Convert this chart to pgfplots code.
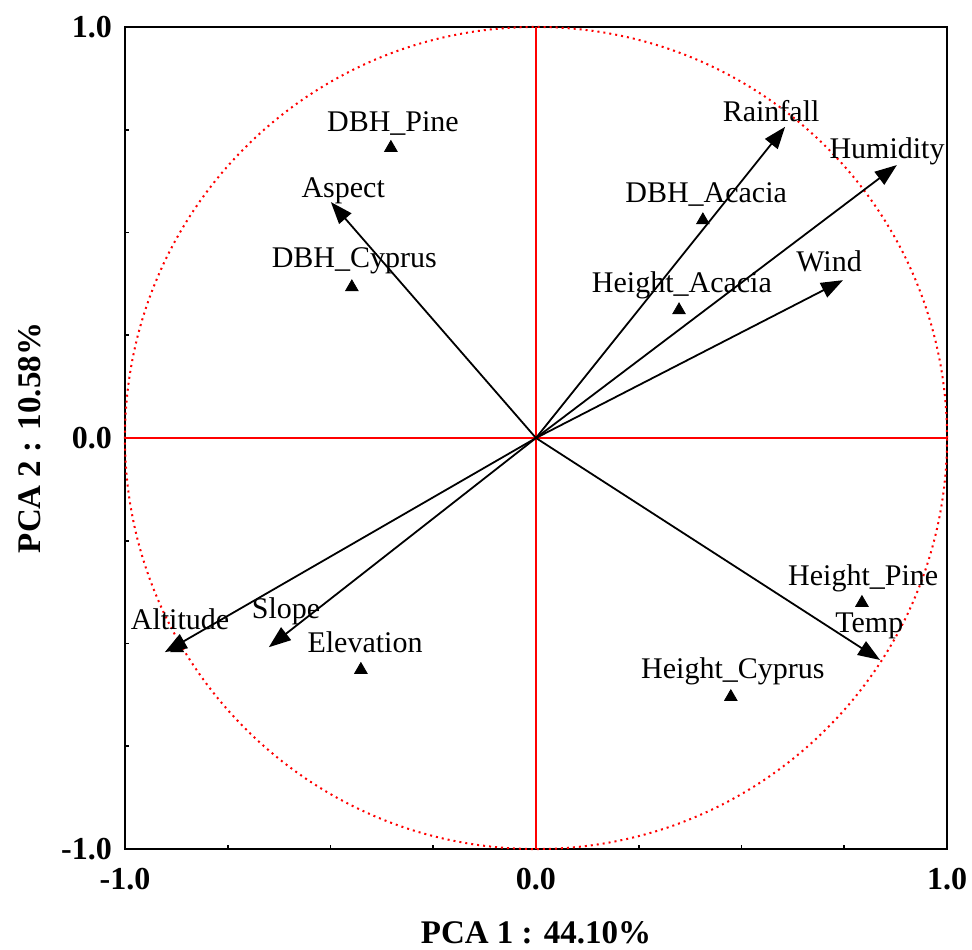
\documentclass[border=0pt]{standalone}
\usepackage{fontspec}
\setmainfont{Liberation Serif}
\usepackage{pgfplots}
\pgfplotsset{compat=1.18}
\usetikzlibrary{arrows.meta}
\tikzset{lab/.style={anchor=base, inner sep=0pt, font=\fontsize{15}{18}\selectfont}}
\begin{document}
\begin{tikzpicture}
\begin{axis}[
  scale only axis, width=411pt, height=411pt,
  xmin=-1, xmax=1, ymin=-1, ymax=1,
  clip=false,
  axis line style={line width=1.4pt},
  xtick={-1,0,1}, ytick={-1,0,1},
  xticklabels={-1.0,0.0,1.0}, yticklabels={-1.0,0.0,1.0},
  minor xtick={-0.75,-0.5,-0.25,0.25,0.5,0.75},
  minor ytick={-0.75,-0.5,-0.25,0.25,0.5,0.75},
  xtick pos=left, ytick pos=left,
  tick align=inside, major tick length=2pt, minor tick length=2pt,
  tick style={black, line width=0.8pt},
  ticklabel style={font=\fontsize{16}{18}\selectfont\bfseries},
  xticklabel style={yshift=-6pt},
  yticklabel style={xshift=-3pt},
  xlabel={PCA 1 : 44.10\%}, ylabel={PCA 2 : 10.58\%},
  label style={font=\fontsize{16.5}{19}\selectfont\bfseries},
  xlabel style={at={(axis description cs:0.5,-0.1145)}, anchor=base},
  ylabel style={at={(axis description cs:-0.1156,0.5)}, anchor=center},
]
% reference lines and unit circle
\draw[red, line width=0.6pt] (axis cs:-1,0) -- (axis cs:1,0);
\draw[red, line width=0.6pt] (axis cs:0,-1) -- (axis cs:0,1);
\draw[red, dotted, line width=1pt] (axis cs:0,0) circle[radius=1];

% variable arrows
\pgfplotsset{vec/.style={black, line width=0.9pt, -{Triangle[length=11pt,width=8pt]}, forget plot}}
\addplot[vec] coordinates {(0,0) (0.606,0.757)};   % Rainfall
\addplot[vec] coordinates {(0,0) (0.878,0.664)};   % Humidity
\addplot[vec] coordinates {(0,0) (0.747,0.384)};   % Wind
\addplot[vec] coordinates {(0,0) (-0.499,0.574)};  % Aspect
\addplot[vec] coordinates {(0,0) (-0.903,-0.521)}; % Altitude
\addplot[vec] coordinates {(0,0) (-0.650,-0.509)}; % Slope
\addplot[vec] coordinates {(0,0) (0.837,-0.540)};  % Temp

% supplementary points
\addplot[only marks, mark=triangle*, mark size=3.6pt, black] coordinates {
  (-0.353,0.706) (-0.448,0.367) (0.406,0.530) (0.348,0.311)
  (0.793,-0.401) (0.474,-0.630) (-0.426,-0.564) (-0.873,-0.511)
};

% labels
\node[lab] at (axis cs:0.572,0.769) {Rainfall};
\node[lab] at (axis cs:0.854,0.681) {Humidity};
\node[lab] at (axis cs:0.713,0.404) {Wind};
\node[lab] at (axis cs:0.414,0.574) {DBH\_Acacia};
\node[lab] at (axis cs:0.355,0.355) {Height\_Acacia};
\node[lab] at (axis cs:-0.348,0.745) {DBH\_Pine};
\node[lab] at (axis cs:-0.469,0.586) {Aspect};
\node[lab] at (axis cs:-0.442,0.414) {DBH\_Cyprus};
\node[lab] at (axis cs:0.796,-0.358) {Height\_Pine};
\node[lab] at (axis cs:0.811,-0.472) {Temp};
\node[lab] at (axis cs:0.479,-0.584) {Height\_Cyprus};
\node[lab] at (axis cs:-0.866,-0.467) {Altitude};
\node[lab] at (axis cs:-0.608,-0.438) {Slope};
\node[lab] at (axis cs:-0.416,-0.523) {Elevation};

\coordinate (bbl) at (rel axis cs:-0.152,-0.1217);
\coordinate (btr) at (rel axis cs:1.0304,1.0328);
\end{axis}
\pgfresetboundingbox
\path[use as bounding box] (bbl) rectangle (btr);
\end{tikzpicture}
\end{document}
